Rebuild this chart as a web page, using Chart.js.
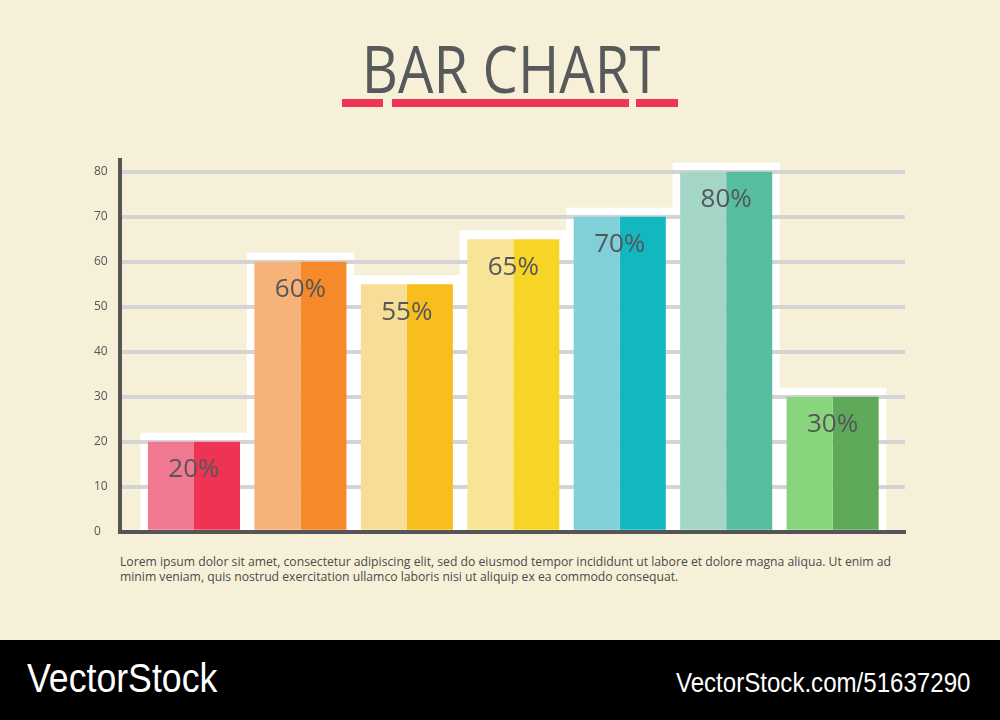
<!DOCTYPE html>
<html>
<head>
<meta charset="utf-8">
<script src="https://cdn.jsdelivr.net/npm/chart.js@4"></script>
<style>
  html, body { margin:0; padding:0; }
  body { width:1000px; height:720px; background:#f7f0d8; position:relative; overflow:hidden; font-family:"Open Sans", sans-serif; }
  #title { position:absolute; left:511px; top:34px; transform:translateX(-50%) scaleX(0.85); font-size:66px; line-height:66px; color:#58595b; white-space:nowrap; }
  .rule { position:absolute; top:99px; height:8px; background:#ee3455; }
  #chartBox { position:absolute; left:0; top:140px; width:1000px; height:411px; }
  #note { position:absolute; left:120px; top:554px; font-size:12.2px; line-height:15px; color:#4a4a4a; white-space:nowrap; }
  #footer { position:absolute; left:0; top:640px; width:1000px; height:80px; background:#000; }
  #brand { position:absolute; left:27px; top:655px; font-family:"Liberation Sans", Arial, sans-serif; font-size:41px; transform-origin:left top; transform:scaleX(0.87); white-space:nowrap; color:#fff; }
  #url { position:absolute; right:30px; top:667px; font-family:"Liberation Sans", Arial, sans-serif; font-size:28px; transform-origin:right top; transform:scaleX(0.86); white-space:nowrap; color:#fff; }
</style>
</head>
<body>
<div id="title">BAR CHART</div>
<div class="rule" style="left:342px;width:41px"></div>
<div class="rule" style="left:392px;width:237px"></div>
<div class="rule" style="left:636px;width:42px"></div>

<div id="chartBox"><canvas id="chart"></canvas></div>

<div id="note">Lorem ipsum dolor sit amet, consectetur adipiscing elit, sed do eiusmod tempor incididunt ut labore et dolore magna aliqua. Ut enim ad<br>minim veniam, quis nostrud exercitation ullamco laboris nisi ut aliquip ex ea commodo consequat.</div>

<div id="footer"></div>
<div id="brand">VectorStock</div>
<div id="url">VectorStock.com/51637290</div>

<script>
const categories = ["A", "B", "C", "D", "E", "F", "G"];
const values = [20, 60, 55, 65, 70, 80, 30];
const lightColors = ["#f07890", "#f7b27a", "#f8dd96", "#f7e496", "#7fd0d8", "#a4d6c8", "#88d57e"];
const darkColors = ["#ee3354", "#f6892a", "#f8be1e", "#f7d526", "#12b7c0", "#56bd9f", "#5fa95a"];
const yTicks = [0, 10, 20, 30, 40, 50, 60, 70, 80];

const points = values.map((v, i) => ({ x: i, y: v }));

// white backing boxes behind each bar pair, drawn before the grid
const backing = {
  id: "backing",
  beforeDraw(chart) {
    const ctx = chart.ctx, area = chart.chartArea;
    const a = chart.getDatasetMeta(0).data, b = chart.getDatasetMeta(1).data;
    ctx.save();
    ctx.fillStyle = "#ffffff";
    a.forEach((el, i) => {
      const l = el.x - el.width / 2 - 7.5;
      const r = b[i].x + b[i].width / 2 + 7.5;
      const t = el.y - 9;
      ctx.fillRect(l, t, r - l, area.bottom - t);
    });
    ctx.restore();
  }
};

const pctLabels = {
  id: "pctLabels",
  afterDatasetsDraw(chart) {
    const ctx = chart.ctx;
    const a = chart.getDatasetMeta(0).data, b = chart.getDatasetMeta(1).data;
    ctx.save();
    ctx.font = '26px "Open Sans"';
    ctx.fillStyle = "#555759";
    ctx.textAlign = "center";
    ctx.textBaseline = "middle";
    a.forEach((el, i) => {
      ctx.fillText(values[i] + "%", (el.x + b[i].x) / 2, el.y + 28);
    });
    ctx.restore();
  }
};

new Chart(document.getElementById("chart"), {
  type: "bar",
  data: {
    labels: categories,
    datasets: [
      { data: points, backgroundColor: lightColors, borderWidth: 0 },
      { data: points, backgroundColor: darkColors, borderWidth: 0 }
    ]
  },
  options: {
    responsive: true,
    maintainAspectRatio: false,
    animation: false,
    categoryPercentage: 0.865,
    barPercentage: 1,
    layout: { padding: { left: 94, right: 95, top: 20, bottom: 9 } },
    plugins: { legend: { display: false }, tooltip: { enabled: false } },
    scales: {
      x: {
        type: "linear", offset: false, min: -0.695, max: 6.68,
        afterBuildTicks: s => { s.ticks = categories.map((c, i) => ({ value: i })); },
        ticks: { display: false },
        grid: { display: false, drawTicks: false },
        border: { display: true, color: "#555555", width: 4 },
        afterFit: s => { s.height = 0; }
      },
      y: {
        min: 0, max: 82.6,
        afterBuildTicks: s => { s.ticks = yTicks.map(v => ({ value: v })); },
        ticks: { color: "#555555", font: { family: "Open Sans", size: 12 }, crossAlign: "far", padding: 12 },
        grid: { color: c => c.tick && c.tick.value === 0 ? "rgba(0,0,0,0)" : "#d4d4d4", lineWidth: 4, drawTicks: false },
        border: { display: true, color: "#555555", width: 4 },
        afterFit: s => { s.width = 26; }
      }
    }
  },
  plugins: [backing, pctLabels]
});
</script>
</body>
</html>
